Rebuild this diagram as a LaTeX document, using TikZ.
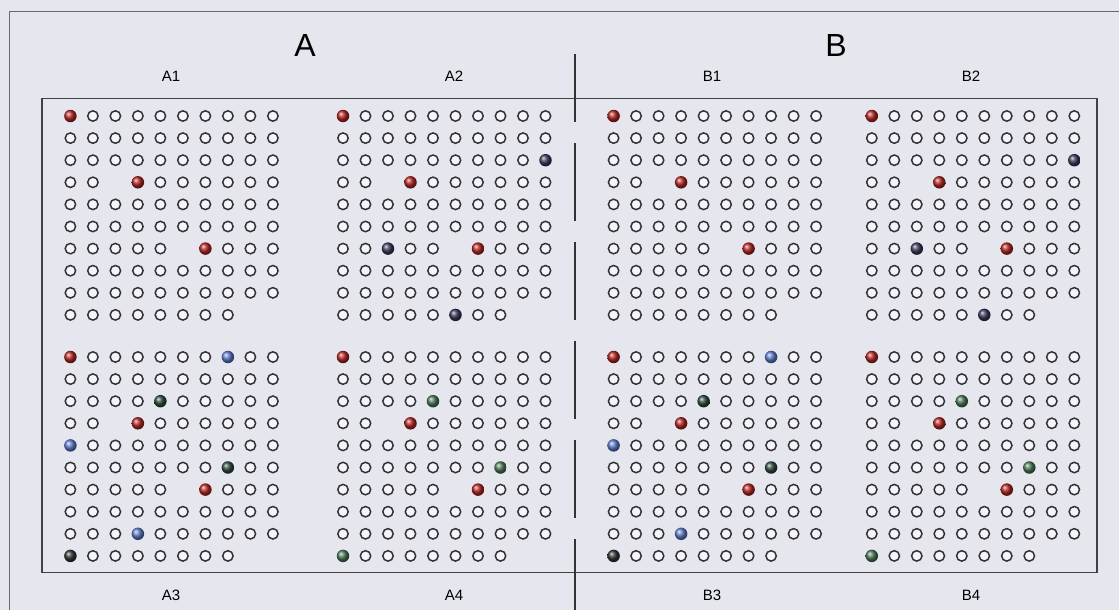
\documentclass[tikz,border=0pt]{standalone}
\usepackage{fontspec}
\setmainfont{Liberation Sans}
\definecolor{bg}{RGB}{230,230,239}
\definecolor{ringc}{RGB}{50,50,55}
\definecolor{spotred}{RGB}{180,38,34}
\definecolor{spotnavy}{RGB}{58,58,92}
\definecolor{spotblue}{RGB}{95,125,205}
\definecolor{spotdkg}{RGB}{45,75,60}
\definecolor{spotgrn}{RGB}{75,120,85}
\definecolor{spotblk}{RGB}{45,55,50}
\definecolor{framec}{RGB}{105,105,112}
\definecolor{boxc}{RGB}{65,65,70}
\newcommand\plateblock[4]{%
  \foreach \r/\row in {#4} {%
    \foreach \k [count=\c] in \row {%
      \node[s\k] (#1-\r-\c) at ({#2+(\c-1)*22.5},{#3+(\r-1)*22.1}) {};
    }%
  }%
}
\begin{document}
\begin{tikzpicture}[x=1pt,y=-1pt,
  spot/.style={circle,inner sep=0pt,minimum size=12.5pt},
  so/.style={spot,draw=ringc,line width=1.5pt,minimum size=10.4pt,fill=bg!40!white},
  sx/.style={spot},
  sr/.style={spot,shading=ball,ball color=spotred},
  sn/.style={spot,shading=ball,ball color=spotnavy},
  sb/.style={spot,shading=ball,ball color=spotblue},
  sd/.style={spot,shading=ball,ball color=spotdkg},
  sg/.style={spot,shading=ball,ball color=spotgrn},
  sk/.style={spot,shading=ball,ball color=spotblk},
  divider/.style={black!80,line width=2pt},
  big/.style={font=\fontsize{32}{32}\selectfont,inner sep=0pt},
  lab/.style={font=\fontsize{15}{15}\selectfont,inner sep=0pt}]
\useasboundingbox (0,0) rectangle (1119,610);
\fill[bg] (0,0) rectangle (1119,610);
% page frame and plate box
\draw[framec,line width=1pt] (1119,12) -- (9,12) -- (9,610);
\draw[boxc,line width=1.2pt] (42,98.5) rectangle (1097,572.5);
% divider
\coordinate (divtop) at (575,54);
\coordinate (divmid) at (575,122);
\coordinate (divnext) at (575,143);
\coordinate (divbot) at (575,610);
\draw[divider] (divtop) -- (divmid);
\draw[divider,dash pattern=on 78pt off 21pt] (divnext) -- (divbot);
% titles
\node[big] (tA) at (305,45) {A};
\node[big] (tB) at (836,45) {B};
\node[lab] (lA1) at (171,76) {A1};
\node[lab] (lA2) at (454,76) {A2};
\node[lab] (lB1) at (712,76) {B1};
\node[lab] (lB2) at (971,76) {B2};
\node[lab] (lA3) at (171,595) {A3};
\node[lab] (lA4) at (454,595) {A4};
\node[lab] (lB3) at (712,595) {B3};
\node[lab] (lB4) at (971,595) {B4};
% top plates
\plateblock{A1}{70.4}{116}{1/{r,o,o,o,o,o,o,o,o,o},2/{o,o,o,o,o,o,o,o,o,o},3/{o,o,o,o,o,o,o,o,o,o},4/{o,o,x,r,o,o,o,o,o,o},5/{o,o,o,o,o,o,o,o,o,o},6/{o,o,o,o,o,o,o,o,o,o},7/{o,o,o,o,o,x,r,o,o,o},8/{o,o,o,o,o,o,o,o,o,o},9/{o,o,o,o,o,o,o,o,o,o},10/{o,o,o,o,o,o,o,o}}
\plateblock{B1}{613.6}{116}{1/{r,o,o,o,o,o,o,o,o,o},2/{o,o,o,o,o,o,o,o,o,o},3/{o,o,o,o,o,o,o,o,o,o},4/{o,o,x,r,o,o,o,o,o,o},5/{o,o,o,o,o,o,o,o,o,o},6/{o,o,o,o,o,o,o,o,o,o},7/{o,o,o,o,o,x,r,o,o,o},8/{o,o,o,o,o,o,o,o,o,o},9/{o,o,o,o,o,o,o,o,o,o},10/{o,o,o,o,o,o,o,o}}
\plateblock{A2}{343}{116}{1/{r,o,o,o,o,o,o,o,o,o},2/{o,o,o,o,o,o,o,o,o,o},3/{o,o,o,o,o,o,o,o,o,n},4/{o,o,x,r,o,o,o,o,o,o},5/{o,o,o,o,o,o,o,o,o,o},6/{o,o,o,o,o,o,o,o,o,o},7/{o,o,n,o,o,x,r,o,o,o},8/{o,o,o,o,o,o,o,o,o,o},9/{o,o,o,o,o,o,o,o,o,o},10/{o,o,o,o,o,n,o,o}}
\plateblock{B2}{871.8}{116}{1/{r,o,o,o,o,o,o,o,o,o},2/{o,o,o,o,o,o,o,o,o,o},3/{o,o,o,o,o,o,o,o,o,n},4/{o,o,x,r,o,o,o,o,o,o},5/{o,o,o,o,o,o,o,o,o,o},6/{o,o,o,o,o,o,o,o,o,o},7/{o,o,n,o,o,x,r,o,o,o},8/{o,o,o,o,o,o,o,o,o,o},9/{o,o,o,o,o,o,o,o,o,o},10/{o,o,o,o,o,n,o,o}}
% bottom plates
\plateblock{A3}{70.4}{357}{1/{r,o,o,o,o,o,o,b,o,o},2/{o,o,o,o,o,o,o,o,o,o},3/{o,o,o,o,d,o,o,o,o,o},4/{o,o,x,r,o,o,o,o,o,o},5/{b,o,o,o,o,o,o,o,o,o},6/{o,o,o,o,o,o,o,d,o,o},7/{o,o,o,o,o,x,r,o,o,o},8/{o,o,o,o,o,o,o,o,o,o},9/{o,o,o,b,o,o,o,o,o,o},10/{k,o,o,o,o,o,o,o}}
\plateblock{B3}{613.6}{357}{1/{r,o,o,o,o,o,o,b,o,o},2/{o,o,o,o,o,o,o,o,o,o},3/{o,o,o,o,d,o,o,o,o,o},4/{o,o,x,r,o,o,o,o,o,o},5/{b,o,o,o,o,o,o,o,o,o},6/{o,o,o,o,o,o,o,d,o,o},7/{o,o,o,o,o,x,r,o,o,o},8/{o,o,o,o,o,o,o,o,o,o},9/{o,o,o,b,o,o,o,o,o,o},10/{k,o,o,o,o,o,o,o}}
\plateblock{A4}{343}{357}{1/{r,o,o,o,o,o,o,o,o,o},2/{o,o,o,o,o,o,o,o,o,o},3/{o,o,o,o,g,o,o,o,o,o},4/{o,o,x,r,o,o,o,o,o,o},5/{o,o,o,o,o,o,o,o,o,o},6/{o,o,o,o,o,o,o,g,o,o},7/{o,o,o,o,o,x,r,o,o,o},8/{o,o,o,o,o,o,o,o,o,o},9/{o,o,o,o,o,o,o,o,o,o},10/{g,o,o,o,o,o,o,o}}
\plateblock{B4}{871.8}{357}{1/{r,o,o,o,o,o,o,o,o,o},2/{o,o,o,o,o,o,o,o,o,o},3/{o,o,o,o,g,o,o,o,o,o},4/{o,o,x,r,o,o,o,o,o,o},5/{o,o,o,o,o,o,o,o,o,o},6/{o,o,o,o,o,o,o,g,o,o},7/{o,o,o,o,o,x,r,o,o,o},8/{o,o,o,o,o,o,o,o,o,o},9/{o,o,o,o,o,o,o,o,o,o},10/{g,o,o,o,o,o,o,o}}
\end{tikzpicture}
\end{document}
